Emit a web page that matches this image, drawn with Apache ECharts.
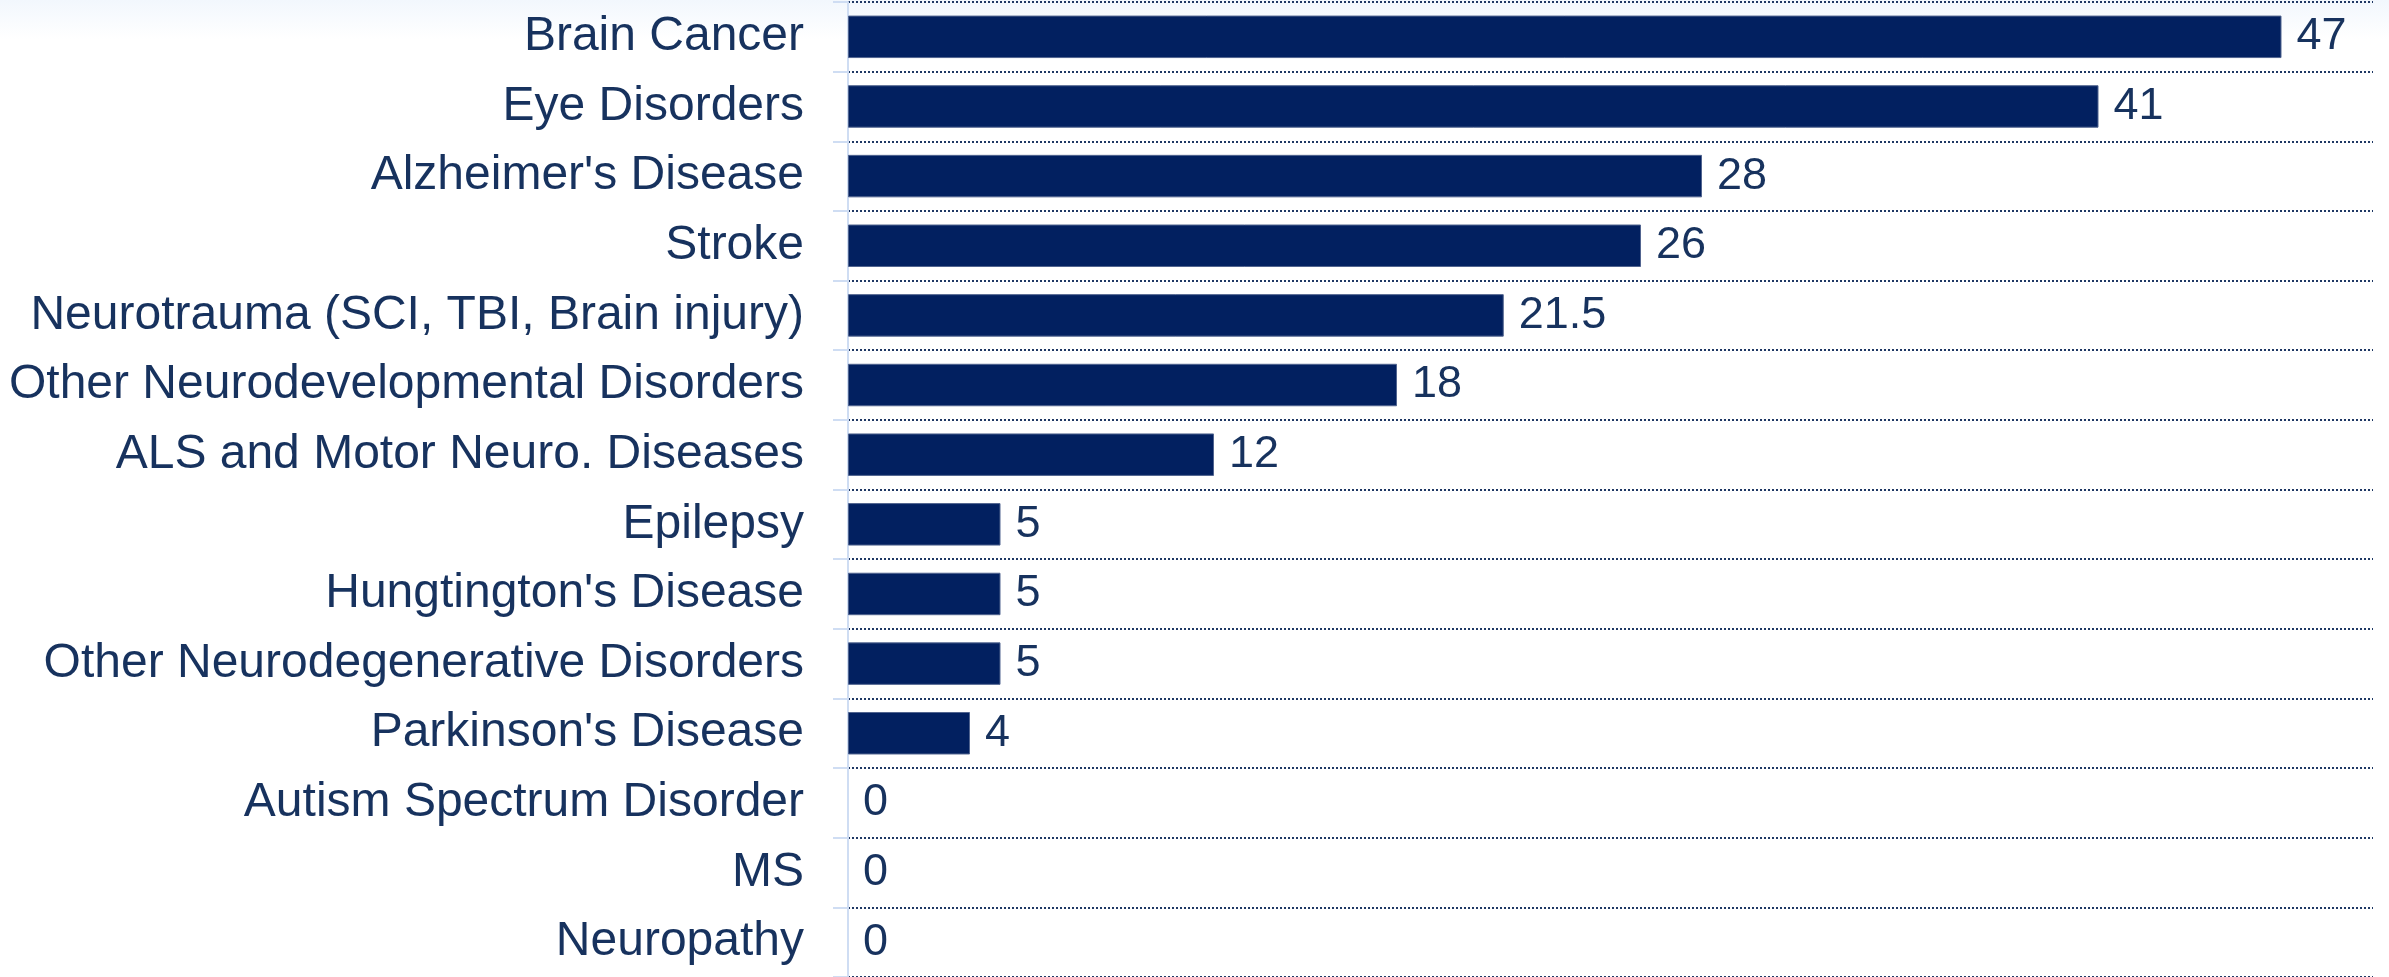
<!DOCTYPE html>
<html>
<head>
<meta charset="utf-8">
<script src="https://cdn.jsdelivr.net/npm/echarts@6/dist/echarts.min.js"></script>
<style>
  html, body { margin: 0; padding: 0; background: #fff; }
  #chart { width: 2389px; height: 977px; }
</style>
</head>
<body>
<div id="chart"></div>
<script>
let categories = [
  'Brain Cancer', 'Eye Disorders', "Alzheimer's Disease", 'Stroke',
  'Neurotrauma (SCI, TBI, Brain injury)', 'Other Neurodevelopmental Disorders',
  'ALS and Motor Neuro. Diseases', 'Epilepsy', "Hungtington's Disease",
  'Other Neurodegenerative Disorders', "Parkinson's Disease",
  'Autism Spectrum Disorder', 'MS', 'Neuropathy'
]
let values = [47, 41, 28, 26, 21.5, 18, 12, 5, 5, 5, 4, 0, 0, 0]

let textColor = '#17325e'
let font = 'Liberation Sans, Arial, sans-serif'
let ch = echarts.init(document.getElementById('chart'))

// no border on empty bars, otherwise a thin line shows at 0
let barData = values.map(v => ({
  value: v,
  itemStyle: { borderWidth: v > 0 ? 1 : 0 }
}))

let option = {
  backgroundColor: new echarts.graphic.LinearGradient(0, 0, 0, 1, [
    { offset: 0, color: '#f2f7fd' },
    { offset: 0.04, color: '#ffffff' },
    { offset: 1, color: '#ffffff' }
  ]),
  animation: false,
  grid: {
    left: 848,
    width: 1525,
    top: 2,
    height: 980
  },
  xAxis: {
    type: 'value',
    min: 0,
    max: 50,
    show: false
  },
  yAxis: {
    type: 'category',
    data: categories,
    inverse: true,
    axisLine: {
      show: true,
      lineStyle: { color: '#cfddf3', width: 2 }
    },
    axisTick: {
      show: true,
      length: 15,
      lineStyle: { color: '#cfddf3', width: 2 }
    },
    axisLabel: {
      color: textColor,
      fontFamily: font,
      fontSize: 48,
      margin: 44
    },
    splitLine: {
      show: true,
      lineStyle: { color: '#1f3864', type: [2, 2], width: 2 }
    }
  },
  series: [{
    type: 'bar',
    data: barData,
    barWidth: '61%',
    itemStyle: {
      color: '#022060',
      borderColor: '#51648f'
    },
    label: {
      show: true,
      position: 'right',
      distance: 15,
      color: textColor,
      fontFamily: font,
      fontSize: 45
    }
  }]
}
ch.setOption(option)
</script>
</body>
</html>
